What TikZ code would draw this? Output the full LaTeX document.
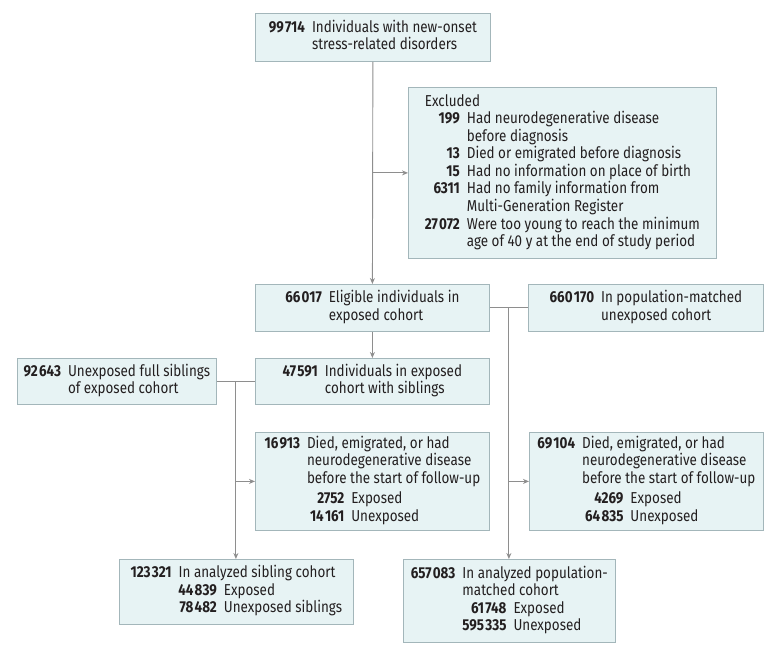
\documentclass[tikz,border=0pt]{standalone}
\usepackage{fontspec}
\usepackage{calc}
\setmainfont{Fira Sans}[FakeStretch=0.85]
\usetikzlibrary{arrows.meta,calc}
\definecolor{boxfill}{HTML}{E7F3F4}
\definecolor{boxline}{HTML}{A3B6BA}
\definecolor{connline}{HTML}{8E8E8E}
\definecolor{txt}{HTML}{231F20}
\newcommand{\nb}[1]{\textbf{#1}}
\newcommand{\ts}{\hspace{1.2pt}}
\newcommand{\subnum}[3]{\hspace{#1}\makebox[\widthof{\textbf{#2}}][r]{\textbf{#3}}\hspace{7pt}}
\begin{document}
\begin{tikzpicture}[x=1pt,y=-1pt,
  box/.style={draw=boxline, fill=boxfill, line width=0.8pt, inner sep=0pt,
    anchor=north west, align=center, text=txt,
    font=\fontsize{15.8}{17.5}\selectfont},
  conn/.style={draw=connline, line width=0.9pt},
  arr/.style={conn, -{Stealth[length=6pt,width=5pt]}},
]
\useasboundingbox (0,0) rectangle (780,654);

\node[box, minimum width=235pt, minimum height=48pt] (a) at (255,13)
 {\begin{tabular}{@{}r@{\hspace{7pt}}l@{}}
  \nb{99\ts714} & Individuals with new-onset\\
   & stress-related disorders
  \end{tabular}};

\node[box, minimum width=308pt, minimum height=171pt] (excl) at (408,87)
 {\begin{tabular}{@{}r@{\hspace{7pt}}l@{}}
  \multicolumn{2}{@{}l@{}}{Excluded}\\
  \nb{199} & Had neurodegenerative disease\\
   & before diagnosis\\
  \nb{13} & Died or emigrated before diagnosis\\
  \nb{15} & Had no information on place of birth\\
  \nb{6311} & Had no family information from\\
   & Multi-Generation Register\\
  \nb{27\ts072} & Were too young to reach the minimum\\
   & age of 40 y at the end of study period
  \end{tabular}};

\node[box, minimum width=234pt, minimum height=47pt] (b) at (255,284)
 {\begin{tabular}{@{}r@{\hspace{7pt}}l@{}}
  \nb{66\ts017} & Eligible individuals in\\
   & exposed cohort
  \end{tabular}};

\node[box, minimum width=235pt, minimum height=47pt] (c) at (528,284)
 {\begin{tabular}{@{}r@{\hspace{7pt}}l@{}}
  \nb{660\ts170} & In population-matched\\
   & unexposed cohort
  \end{tabular}};

\node[box, minimum width=234pt, minimum height=46pt] (d) at (255,358)
 {\begin{tabular}{@{}r@{\hspace{7pt}}l@{}}
  \nb{47\ts591} & Individuals in exposed\\
   & cohort with siblings
  \end{tabular}};

\node[box, minimum width=199pt, minimum height=46pt] (e) at (17,358)
 {\begin{tabular}{@{}r@{\hspace{7pt}}l@{}}
  \nb{92\ts643} & Unexposed full siblings\\
   & of exposed cohort
  \end{tabular}};

\node[box, minimum width=234pt, minimum height=98pt] (f) at (255,432)
 {\begin{tabular}{@{}r@{\hspace{7pt}}l@{}}
  \nb{16\ts913} & Died, emigrated, or had\\
   & neurodegenerative disease\\
   & before the start of follow-up\\[3pt]
   & \subnum{3pt}{14\ts161}{2752}Exposed\\
   & \subnum{3pt}{14\ts161}{14\ts161}Unexposed
  \end{tabular}};

\node[box, minimum width=234pt, minimum height=98pt] (g) at (529,432)
 {\begin{tabular}{@{}r@{\hspace{7pt}}l@{}}
  \nb{69\ts104} & Died, emigrated, or had\\
   & neurodegenerative disease\\
   & before the start of follow-up\\[3pt]
   & \subnum{3pt}{64\ts835}{4269}Exposed\\
   & \subnum{3pt}{64\ts835}{64\ts835}Unexposed
  \end{tabular}};

\node[box, minimum width=234pt, minimum height=65pt] (h) at (119,559)
 {\begin{tabular}{@{}r@{\hspace{7pt}}l@{}}
  \nb{123\ts321} & In analyzed sibling cohort\\
   & \subnum{1pt}{78\ts482}{44\ts839}Exposed\\
   & \subnum{1pt}{78\ts482}{78\ts482}Unexposed siblings
  \end{tabular}};

\node[box, minimum width=212pt, minimum height=83pt] (i) at (403,559)
 {\begin{tabular}{@{}r@{\hspace{7pt}}l@{}}
  \nb{657\ts083} & In analyzed population-\\
   & matched cohort\\
   & \subnum{0pt}{595\ts335}{61\ts748}Exposed\\
   & \subnum{0pt}{595\ts335}{595\ts335}Unexposed
  \end{tabular}};

% connectors
\draw[arr] (a.south) -- (b.north);
\draw[arr] (a.south |- excl.west) -- (excl.west);
\draw[arr] (b.south) -- (d.north);
\draw[conn] (b.east) -- (c.west);
\coordinate (j2) at ($(b.east)!0.5!(c.west)$);
\draw[arr] (j2) -- (j2 |- i.north);
\draw[arr] (j2 |- g.west) -- (g.west);
\draw[conn] (e.east) -- (d.west);
\coordinate (j1) at ($(e.east)!0.5!(d.west)$);
\draw[arr] (j1) -- (j1 |- h.north);
\draw[arr] (j1 |- f.west) -- (f.west);
\end{tikzpicture}
\end{document}
